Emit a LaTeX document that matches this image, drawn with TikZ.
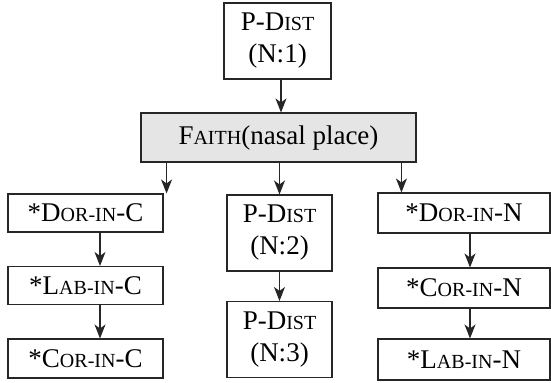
\documentclass[tikz,border=0pt]{standalone}
\usepackage{fontspec}
\setmainfont{Liberation Serif}
\usetikzlibrary{arrows.meta}
\tikzstyle{myBox} = [rectangle, draw=black!85, line width=.55pt, text centered, inner sep=0pt, font=\fontsize{13.5}{16}\selectfont]
\tikzstyle{twoLine} = [myBox, align=center, minimum height=38pt]
\tikzstyle{myArrow} = [draw=black!85, line width=.55pt, -{Stealth[length=7pt,width=5.5pt,inset=2pt]}]
\newcommand{\sca}[1]{{\fontsize{10}{12}\selectfont #1}}

\begin{document}
\begin{tikzpicture}
		\useasboundingbox (0,0) rectangle (275.5pt,-191pt);
		\node [twoLine,minimum width=53.5pt] (t1) at (138.75pt,-20.5pt) {P-D\sca{IST}\\(N:1)};
		\node [myBox,fill=black!10,minimum width=137.5pt,minimum height=24.5pt,below of=t1,node distance=48.25pt,xshift=.5pt] (f1) {F\sca{AITH}(nasal place)};
		% left column
		\node [myBox,minimum width=77.5pt,minimum height=19pt] (l1) at (42.75pt,-106.5pt) {*D\sca{OR-IN}-C};
		\node [myBox,minimum width=77.5pt,minimum height=19pt,below of=l1,node distance=36.25pt] (l2) {*L\sca{AB-IN}-C};
		\node [myBox,minimum width=77.5pt,minimum height=19.5pt,below of=l2,node distance=36.5pt] (l3) {*C\sca{OR-IN}-C};
		% middle column
		\node [twoLine,minimum width=52.5pt] (m1) at (139.75pt,-116.5pt) {P-D\sca{IST}\\(N:2)};
		\node [twoLine,minimum width=52.5pt,below of=m1,node distance=53.25pt] (m2) {P-D\sca{IST}\\(N:3)};
		% right column
		\node [myBox,minimum width=86pt,minimum height=20pt] (r1) at (232pt,-106.5pt) {*D\sca{OR-IN}-N};
		\node [myBox,minimum width=86pt,minimum height=20pt,below of=r1,node distance=37.5pt] (r2) {*C\sca{OR-IN}-N};
		\node [myBox,minimum width=86pt,minimum height=20.5pt,below of=r2,node distance=35.75pt] (r3) {*L\sca{AB-IN}-N};
		
		\draw [myArrow] ([xshift=1.75pt]t1.south) -- ([xshift=1.75pt]t1.south |- f1.north);
		\draw [myArrow] ([xshift=1.5pt]l1.north east |- f1.south) -- ([xshift=1.5pt]l1.north east);
		\draw [myArrow] (m1.north |- f1.south) -- (m1.north);
		\draw [myArrow] ([xshift=12pt]r1.north west |- f1.south) -- ([xshift=12pt]r1.north west);
		\draw [myArrow] ([xshift=7.25pt]l1.south) -- ([xshift=7.25pt]l2.north);
		\draw [myArrow] ([xshift=7.25pt]l2.south) -- ([xshift=7.25pt]l3.north);
		\draw [myArrow] (m1.south) -- (m2.north);
		\draw [myArrow] ([xshift=3pt]r1.south) -- ([xshift=3pt]r2.north);
		\draw [myArrow] ([xshift=3pt]r2.south) -- ([xshift=3pt]r3.north);
		
		\end{tikzpicture}
\end{document}
